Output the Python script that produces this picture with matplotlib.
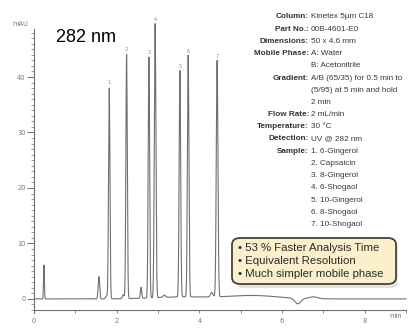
import numpy as np
import matplotlib.pyplot as plt
from matplotlib.patches import FancyBboxPatch
from matplotlib.ticker import MultipleLocator

# 1. Data
peak_numbers = ["1", "2", "3", "4", "5", "6", "7"]
peak_times = [1.82, 2.24, 2.78, 2.93, 3.53, 3.73, 4.43]      # min
peak_heights = [38.0, 44.0, 43.4, 49.4, 40.8, 43.6, 42.6]    # mAU
peak_widths = [0.017, 0.017, 0.017, 0.019, 0.018, 0.018, 0.02]

minor_times = [0.24, 1.57, 1.75, 2.16, 2.59, 3.15, 4.30]
minor_heights = [6.1, 4.0, 0.5, 0.7, 2.0, 0.4, 0.8]
minor_widths = [0.010, 0.018, 0.02, 0.02, 0.016, 0.03, 0.03]

drift_times = [3.6, 5.3, 6.38, 6.76]
drift_heights = [0.35, 0.6, -1.0, 0.35]
drift_widths = [0.7, 0.6, 0.07, 0.1]

method_labels = ["Column:", "Part No.:", "Dimensions:", "Mobile Phase:", "", "Gradient:", "", "",
                 "Flow Rate:", "Temperature:", "Detection:", "Sample:", "", "", "", "", "", ""]
method_values = ["Kinetex 5\u00b5m C18", "00B-4601-E0", "50 x 4.6 mm", "A: Water",
                 "B: Acetonitrile", "A/B (65/35) for 0.5 min to", "(5/95) at 5 min and hold",
                 "2 min", "2 mL/min", "30 \u00b0C", "UV @ 282 nm", "1. 6-Gingerol",
                 "2. Capsaicin", "3. 8-Gingerol", "4. 6-Shogaol", "5. 10-Gingerol",
                 "6. 8-Shogaol", "7. 10-Shogaol"]
highlights = ["\u2022 53 % Faster Analysis Time", "\u2022 Equivalent Resolution",
              "\u2022 Much simpler mobile phase"]

# 2. Build the trace from the peak lists
t = np.linspace(0, 9, 6000)
signal = np.zeros_like(t)
for tt, h, w in zip(peak_times + minor_times + drift_times,
                    peak_heights + minor_heights + drift_heights,
                    peak_widths + minor_widths + drift_widths):
    signal += h * np.exp(-0.5 * ((t - tt) / w) ** 2)

# 3. Figure
W, H = 414, 329
fig = plt.figure(figsize=(W / 100, H / 100), dpi=100)
ax = fig.add_axes([34 / W, 19 / H, 372 / W, 294 / H])
gray = "#707070"
ax.plot(t, signal, color=gray, lw=0.8, clip_on=False)
ax.set_xlim(0, 9)
ax.set_ylim(-2, 51)

for s in ["top", "right"]:
    ax.spines[s].set_visible(False)
ax.spines["left"].set_bounds(-2.5, 48.6)
for s in ["left", "bottom"]:
    ax.spines[s].set_color(gray)
    ax.spines[s].set_linewidth(0.8)

ax.set_yticks([0, 10, 20, 30, 40])
ax.set_yticks(np.arange(-2, 49, 1), minor=True)
ax.xaxis.set_major_locator(MultipleLocator(2))
ax.xaxis.set_minor_locator(MultipleLocator(1))
ax.tick_params(axis="y", which="major", length=5, width=0.7, color=gray,
               labelsize=4.8, labelcolor="#777777", pad=1)
ax.tick_params(axis="y", which="minor", length=2.5, width=0.5, color=gray)
ax.tick_params(axis="x", which="both", length=2.5, width=0.6, color=gray,
               labelsize=4.8, labelcolor="#777777", pad=3)
ax.set_xticks([0, 2, 4, 6, 8])

ax.text(-0.15, 49.0, "mAU", fontsize=4.8, color="#777777", ha="right", va="bottom")
ax.text(8.75, -2.6, "min", fontsize=4.8, color="#777777", ha="center", va="top")

for lab, tt, h in zip(peak_numbers, peak_times, peak_heights):
    ax.text(tt, h + 0.6, lab, fontsize=3.5, color="#888888", ha="center", va="bottom")

fig.text(56 / W, 1 - 38 / H, "282 nm", fontsize=13, family="Liberation Sans",
         color="black", va="center", ha="left")

# 4. Method block
y0 = 17
for i, (lab, val) in enumerate(zip(method_labels, method_values)):
    yy = 1 - (y0 + i * 12.2) / H
    if lab:
        fig.text(309 / W, yy, lab, fontsize=5.9, family="Liberation Sans", weight="bold",
                 color="#333333", ha="right", va="center")
    fig.text(311 / W, yy, val, fontsize=5.9, family="Liberation Sans", color="#3a3a3a",
             ha="left", va="center")

# 5. Highlight box
shadow = FancyBboxPatch((236 / W, 1 - 288 / H), 162 / W, 46 / H,
                        boxstyle="round,pad=0,rounding_size=0.02",
                        transform=fig.transFigure, facecolor="#cfcfcf",
                        edgecolor="none", alpha=0.6)
box = FancyBboxPatch((232 / W, 1 - 284 / H), 164 / W, 46 / H,
                     boxstyle="round,pad=0,rounding_size=0.02",
                     transform=fig.transFigure, facecolor="#fcf0cc",
                     edgecolor="#4a4335", linewidth=1.3)
fig.patches.extend([shadow, box])
for i, line in enumerate(highlights):
    fig.text(238 / W, 1 - (248 + i * 13) / H, line, fontsize=8.2,
             family="Liberation Sans", color="#2a2a2a", ha="left", va="center")

fig.savefig("out.png", dpi=100)
